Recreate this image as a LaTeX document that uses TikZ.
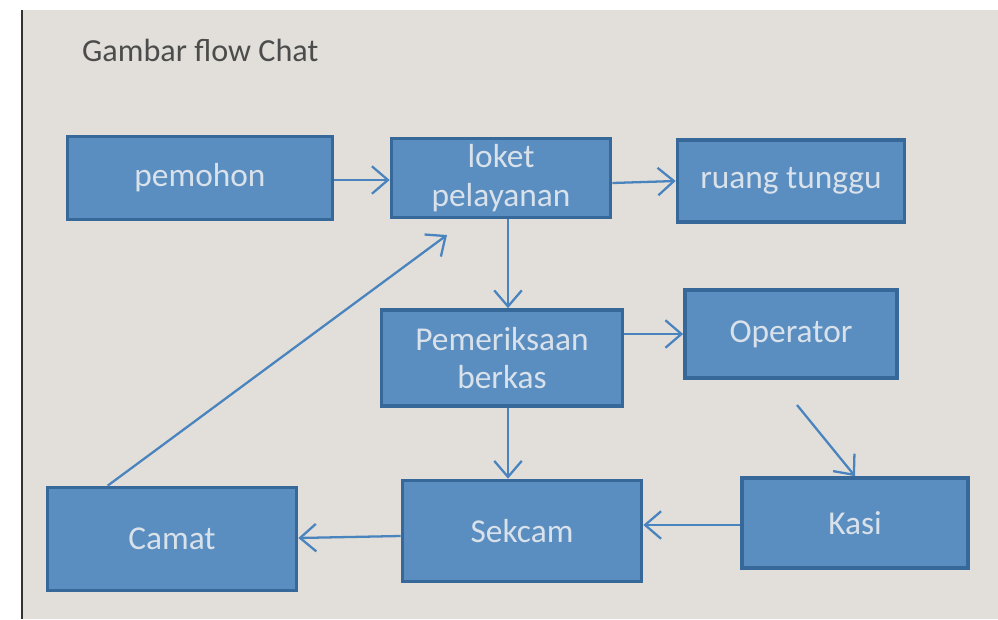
\documentclass[tikz,border=0pt]{standalone}
\usepackage{fontspec}
\setmainfont{Carlito}
\usetikzlibrary{arrows.meta}
\definecolor{boxfill}{HTML}{5A8EC0}
\definecolor{boxline}{HTML}{36699A}
\definecolor{boxtext}{HTML}{D9E1EA}
\definecolor{arrowline}{HTML}{4A84BE}
\definecolor{paper}{HTML}{E2DFDA}
\begin{document}
\begin{tikzpicture}[x=0.02cm, y=-0.02cm,
    box/.style={draw=boxline, line width=2.1pt, fill=boxfill, text=boxtext,
      font=\fontsize{19}{22}\selectfont, align=center, inner sep=0pt},
    arr/.style={draw=arrowline, line width=1.3pt,
      -{Straight Barb[length=3.2mm, width=5.5mm]}}]

      % paper
      \fill[white] (0,0) rectangle (998,619);
      \fill[paper] (22,10) rectangle (998,619);
      \draw[black!80, line width=0.8pt] (22,10) -- (22,619);
      \useasboundingbox (0,0) rectangle (998,619);

      \node[anchor=west, text=black!70, font=\fontsize{18.3}{21}\selectfont] (title) at (76,50) {Gambar flow Chat};

      \node[box, minimum width=5.3cm, minimum height=1.66cm] (pemohon) at (200,178) {pemohon};
      \node[box, minimum width=4.38cm, minimum height=1.58cm] (loket) at (501,178) {loket\\pelayanan};
      \node[box, minimum width=4.54cm, minimum height=1.64cm] (ruang) at (791,181) {ruang tunggu};
      \node[box, minimum width=4.82cm, minimum height=1.92cm] (periksa) at (502,358) {Pemeriksaan\\berkas};
      \node[box, minimum width=4.24cm, minimum height=1.76cm] (operator) at (791,334) {Operator};
      \node[box, minimum width=4.98cm, minimum height=2.06cm] (camat) at (172,539) {Camat};
      \node[box, minimum width=4.78cm, minimum height=2.02cm] (sekcam) at (522,531) {Sekcam};
      \node[box, minimum width=4.52cm, minimum height=1.8cm] (kasi) at (855,523) {Kasi};

      \coordinate (loketin) at (447,235);
      \coordinate (opout) at (797,405);

      \draw[arr] (pemohon.east |- 0,180) -- (loket.west |- 0,180);
      \draw[arr] (loket.east |- 0,183) -- (ruang.west |- 0,181);
      \draw[arr] (loket.south -| 508,0) -- (periksa.north -| 508,0);
      \draw[arr] (periksa.east |- operator) -- (operator.west);
      \draw[arr] (periksa.south -| 508,0) -- (sekcam.north -| 508,0);
      \draw[arr] (opout) -- (kasi.north);
      \draw[arr] (kasi.west |- 0,525) -- (sekcam.east |- 0,525);
      \draw[arr] (sekcam.west |- 0,536) -- (camat.east |- 0,538);
      \draw[arr] ([xshift=1.24cm]camat.north west) -- (loketin);
    \end{tikzpicture}
\end{document}
